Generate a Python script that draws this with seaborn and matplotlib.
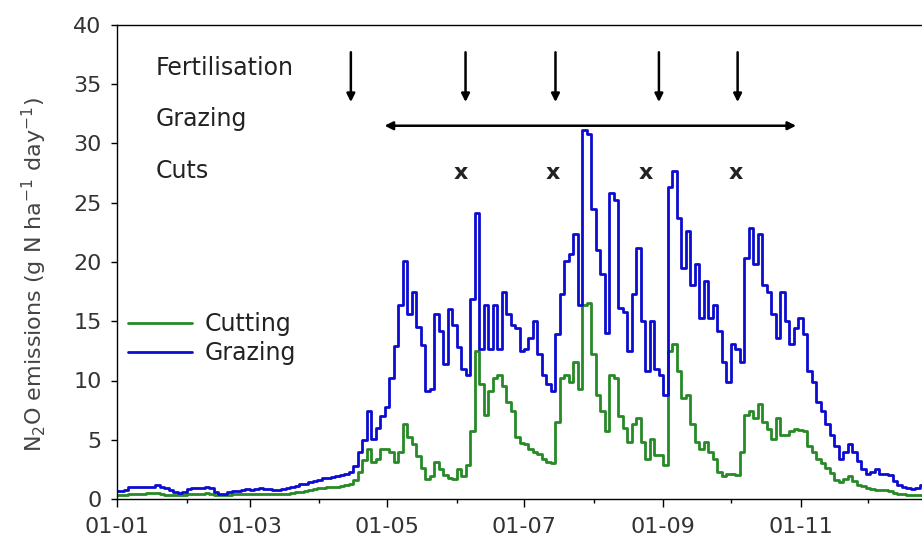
import matplotlib
matplotlib.use('Agg')
import matplotlib.pyplot as plt
import pandas as pd
import seaborn as sns

# ---------------- data ----------------
days = list(range(0, 360, 2))  # day of year, every second day

grazing = [
    0.7, 0.7, 0.75, 1.0, 1.0, 1.0, 1.0, 1.0, 1.05, 1.15,
    1.05, 0.9, 0.75, 0.6, 0.5, 0.6, 0.85, 0.9, 0.9, 0.95,
    1.0, 0.9, 0.6, 0.45, 0.4, 0.55, 0.65, 0.7, 0.8, 0.85,
    0.8, 0.85, 0.9, 0.85, 0.85, 0.8, 0.75, 0.85, 0.95, 1.05,
    1.1, 1.25, 1.3, 1.45, 1.55, 1.6, 1.75, 1.8, 1.85, 1.9,
    2.0, 2.15, 2.3, 2.8, 4.0, 5.0, 7.4, 5.1, 6.0, 7.0,
    7.8, 10.2, 12.9, 16.4, 20.1, 15.6, 17.5, 14.5, 13.0, 9.1,
    9.3, 15.6, 14.2, 11.4, 16.0, 14.7, 12.8, 11.0, 10.5, 16.9,
    24.1, 12.7, 16.4, 12.7, 16.4, 12.7, 17.5, 15.6, 14.7, 14.4,
    12.5, 12.7, 13.6, 15.0, 12.2, 10.5, 9.7, 9.1, 13.9, 17.3,
    20.1, 20.7, 22.4, 16.4, 31.1, 30.8, 24.5, 21.0, 19.0, 14.0,
    25.8, 25.2, 16.1, 15.8, 12.5, 17.3, 21.2, 15.0, 10.8, 15.0,
    11.0, 10.5, 8.8, 26.3, 27.7, 23.7, 19.5, 22.6, 18.1, 19.8,
    15.3, 18.4, 15.3, 16.4, 14.2, 11.6, 9.9, 13.1, 12.7, 11.6,
    20.3, 22.9, 19.8, 22.4, 18.1, 17.5, 15.6, 13.6, 17.5, 15.0,
    13.1, 14.4, 15.3, 13.9, 10.8, 9.9, 8.2, 7.4, 6.3, 5.4,
    4.5, 3.4, 4.0, 4.6, 4.0, 3.2, 2.5, 2.1, 2.3, 2.5,
    2.1, 2.1, 2.0, 1.5, 1.2, 1.0, 0.9, 0.85, 0.9, 1.2,
]

cutting = [
    0.3, 0.3, 0.35, 0.4, 0.4, 0.45, 0.45, 0.5, 0.5, 0.5,
    0.45, 0.35, 0.3, 0.3, 0.3, 0.35, 0.4, 0.4, 0.45, 0.45,
    0.5, 0.45, 0.35, 0.3, 0.3, 0.35, 0.4, 0.4, 0.4, 0.4,
    0.4, 0.4, 0.4, 0.4, 0.4, 0.4, 0.4, 0.4, 0.45, 0.5,
    0.55, 0.6, 0.7, 0.75, 0.85, 0.9, 0.95, 1.0, 1.0, 1.05,
    1.1, 1.2, 1.3, 1.6, 2.3, 3.3, 4.2, 3.1, 3.4, 4.2,
    4.2, 4.0, 3.1, 4.0, 6.3, 5.2, 4.6, 3.6, 2.6, 1.7,
    1.9, 3.1, 2.5, 2.0, 1.8, 1.7, 2.5, 1.9, 2.9, 5.7,
    12.5, 9.7, 7.1, 9.1, 10.2, 10.5, 9.5, 8.2, 7.4, 5.2,
    4.7, 4.6, 4.2, 4.0, 3.8, 3.4, 3.1, 3.0, 6.5, 10.2,
    10.5, 9.9, 11.6, 9.3, 16.4, 16.5, 12.2, 8.8, 7.4, 5.7,
    10.5, 10.2, 7.0, 6.0, 4.8, 6.3, 6.8, 4.8, 3.4, 5.1,
    3.7, 3.7, 2.9, 12.5, 13.1, 10.8, 8.5, 8.8, 6.3, 4.8,
    4.2, 4.8, 4.0, 3.4, 2.3, 1.9, 2.1, 2.1, 2.0, 4.0,
    7.1, 7.4, 6.8, 8.0, 6.5, 5.9, 5.1, 6.8, 5.4, 5.4,
    5.7, 5.9, 5.8, 5.7, 4.5, 4.0, 3.4, 3.0, 2.6, 2.2,
    1.6, 1.4, 1.7, 1.9, 1.5, 1.2, 1.1, 0.95, 0.85, 0.8,
    0.8, 0.76, 0.65, 0.5, 0.4, 0.38, 0.35, 0.34, 0.35, 0.35,
]

series_names = ['Cutting', 'Grazing']
month_days = [0, 31, 59, 90, 120, 151, 181, 212, 243, 273, 304, 334]
label_days = [0, 59, 120, 181, 243, 304]
tick_labels = ['01-01', '01-03', '01-05', '01-07', '01-09', '01-11']
y_ticks = [0, 5, 10, 15, 20, 25, 30, 35, 40]

fert_days = [104, 155, 195, 241, 276]
cut_days = [153, 194, 235, 275]
grazing_period = [119, 302]

# ---------------- style ----------------
sns.set_style('white')
plt.rcParams['font.family'] = ['DejaVu Sans']
plt.rcParams['mathtext.default'] = 'regular'

colors = {'Cutting': '#268a26', 'Grazing': '#0c0cd0'}
text_col = '#222222'

df = pd.DataFrame({
    'day': days + days,
    'value': cutting + grazing,
    'treatment': ['Cutting'] * len(days) + ['Grazing'] * len(days),
})

fig = plt.figure(figsize=(9.22, 5.48), dpi=100)
ax = fig.add_axes([117 / 922, 1 - 499 / 548, (922 - 117) / 922, (499 - 25) / 548])

sns.lineplot(data=df, x='day', y='value', hue='treatment', hue_order=series_names,
             palette=colors, estimator=None, drawstyle='steps-mid', linewidth=2.0, ax=ax)

ax.set_xlim(0, 358)
ax.set_ylim(0, 40)
ax.set_yticks(y_ticks)
ax.set_xticks(label_days)
ax.set_xticklabels(tick_labels)
ax.set_xticks([d for d in month_days if d not in label_days], minor=True)

ax.tick_params(axis='x', which='major', direction='out', length=6, width=1,
               color='black', labelsize=16, labelcolor='#333333', pad=7, bottom=True)
ax.tick_params(axis='x', which='minor', direction='out', length=3, width=1,
               color='black', bottom=True)
ax.tick_params(axis='y', which='major', direction='out', length=4, width=1,
               color='black', labelsize=16, labelcolor='#333333', pad=7, left=True)

for side in ['left', 'bottom', 'top']:
    ax.spines[side].set_color('black')
    ax.spines[side].set_linewidth(1.0)
ax.spines['right'].set_visible(False)

ax.set_xlabel('')
ax.set_ylabel('N$_2$O emissions (g N ha$^{-1}$ day$^{-1}$)', fontsize=16, color='#444444')
ax.yaxis.set_label_coords(-0.085, 0.473)

handles, labels = ax.get_legend_handles_labels()
for h in handles:
    h.set_linewidth(2.0)
ax.legend(handles, labels, loc='upper left', bbox_to_anchor=(0.0137, 0.394),
          frameon=False, fontsize=17, handlelength=2.7, handletextpad=0.55,
          labelspacing=0.2, borderpad=0, borderaxespad=0, labelcolor=text_col)

# ---------------- management annotations ----------------
ax.text(17, 36.4, 'Fertilisation', va='center', ha='left', fontsize=17, color=text_col)
ax.text(17, 32.1, 'Grazing', va='center', ha='left', fontsize=17, color=text_col)
ax.text(17, 27.7, 'Cuts', va='center', ha='left', fontsize=17, color=text_col)

for d in fert_days:
    ax.annotate('', xy=(d, 33.5), xytext=(d, 37.7),
                arrowprops=dict(arrowstyle='-|>', color='black', lw=1.8,
                                mutation_scale=12, shrinkA=0, shrinkB=0))

ax.annotate('', xy=(grazing_period[1], 31.5), xytext=(grazing_period[0], 31.5),
            arrowprops=dict(arrowstyle='<|-|>', color='black', lw=1.8,
                            mutation_scale=12, shrinkA=0, shrinkB=0))

for d in cut_days:
    ax.text(d, 27.5, 'x', ha='center', va='center', fontsize=16,
            fontweight='bold', color=text_col)

fig.savefig('out.png', dpi=100)
